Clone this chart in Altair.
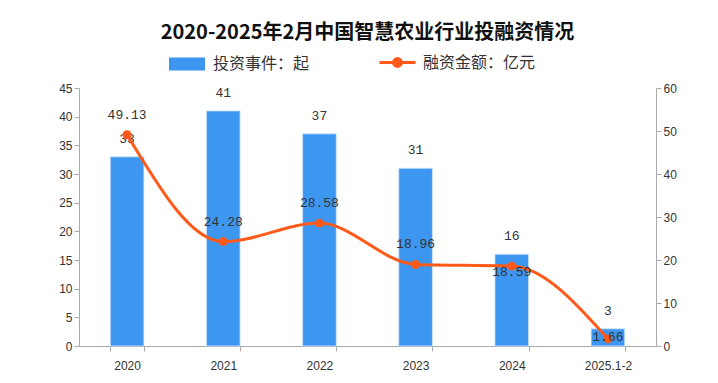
import altair as alt
import pandas as pd

categories = ["2020", "2021", "2022", "2023", "2024", "2025.1-2"]
events = [33, 41, 37, 31, 16, 3]
amounts = [49.13, 24.28, 28.58, 18.96, 18.59, 1.66]

BLUE = "#3D97F0"
ORANGE = "#FF5A1A"
CJK = "Noto Sans CJK SC"
NUM = "Liberation Mono"

df = pd.DataFrame({"cat": categories, "events": events, "amount": amounts})
df["s1"] = "投资事件：起"
df["s2"] = "融资金额：亿元"
df["amount_lbl"] = [f"{v:.2f}" for v in amounts]

xscale = alt.Scale(domain=categories, paddingInner=0.65, paddingOuter=0.325)
xenc = alt.X("cat:N", scale=xscale, sort=categories, title=None,
             axis=alt.Axis(labelAngle=0, tickBand="extent", labelFont="Liberation Sans",
                           labelFontSize=12, labelColor="#333", domainColor="#aaa",
                           tickColor="#aaa", labelPadding=9))
xplain = alt.X("cat:N", scale=xscale, sort=categories, title=None)

yl_axis = alt.Axis(values=list(range(0, 46, 5)), grid=False, domainColor="#aaa",
                   tickColor="#aaa", labelColor="#333", labelFont="Liberation Sans",
                   labelFontSize=12, minExtent=50, maxExtent=50)
yl = alt.Y("events:Q", scale=alt.Scale(domain=[0, 45]), title=None, axis=yl_axis)

base = alt.Chart(df)

bars = base.mark_bar(stroke="#cfe6ff", strokeWidth=0.8).encode(
    x=xenc,
    y=yl,
    color=alt.Color("s1:N", scale=alt.Scale(range=[BLUE]), title=None,
                    legend=alt.Legend(orient="none", legendX=90, legendY=-42, padding=0,
                                      symbolType="M-1,-0.36H1V0.36H-1Z", symbolSize=1296,
                                      symbolStrokeWidth=0, labelFont=CJK, labelFontSize=16,
                                      labelColor="#333", labelOffset=8)),
)

bar_text = base.mark_text(dy=-18, font=NUM, fontSize=13, color="#333").encode(
    x=xplain,
    y=yl,
    text="events:Q",
)

left = alt.layer(bars, bar_text)

yr_axis = alt.Axis(orient="right", values=list(range(0, 61, 10)), grid=False,
                   domainColor="#aaa", tickColor="#aaa", labelColor="#333",
                   labelFont="Liberation Sans", labelFontSize=12)
yr = alt.Y("amount:Q", scale=alt.Scale(domain=[0, 60]), title=None, axis=yr_axis)

line = base.mark_line(interpolate="monotone", strokeWidth=3,
                      point=alt.OverlayMarkDef(filled=True, size=80, color=ORANGE)).encode(
    x=xplain,
    y=yr,
    color=alt.Color("s2:N", scale=alt.Scale(range=[ORANGE]), title=None,
                    legend=alt.Legend(orient="none", legendX=299, legendY=-45, padding=0,
                                      symbolType="M-1,0H1M-0.22,0A0.22,0.22 0 1,0 0.22,0A0.22,0.22 0 1,0 -0.22,0",
                                      symbolSize=1296, symbolStrokeWidth=3,
                                      symbolFillColor=ORANGE, symbolStrokeColor=ORANGE,
                                      labelFont=CJK, labelFontSize=16, labelColor="#333",
                                      labelOffset=6)),
)

above = ["2020", "2021", "2022", "2023"]
lt_above = base.mark_text(dy=-20, font=NUM, fontSize=13, color="#333").encode(
    x=xplain, y=yr, text="amount_lbl:N"
).transform_filter(alt.FieldOneOfPredicate(field="cat", oneOf=above))
lt_below = base.mark_text(dy=6, font=NUM, fontSize=13, color="#333").encode(
    x=xplain, y=yr, text="amount_lbl:N"
).transform_filter(alt.FieldEqualPredicate(field="cat", equal="2024"))
lt_on = base.mark_text(dy=-2, font=NUM, fontSize=13, color="#333").encode(
    x=xplain, y=yr, text="amount_lbl:N"
).transform_filter(alt.FieldEqualPredicate(field="cat", equal="2025.1-2"))

right = alt.layer(line, lt_above, lt_below, lt_on)

chart = alt.layer(left, right).resolve_scale(y="independent", color="independent").properties(
    width=577, height=258, background="white",
    padding={"left": 21, "top": 15, "right": 5, "bottom": 2},
    title=alt.TitleParams("2020-2025年2月中国智慧农业行业投融资情况", font=CJK, fontSize=20,
                          fontWeight="bold", color="#111", anchor="middle", offset=0),
).configure_view(stroke=None)

chart.save("out.html", embed_options={"renderer": "svg", "actions": False})
